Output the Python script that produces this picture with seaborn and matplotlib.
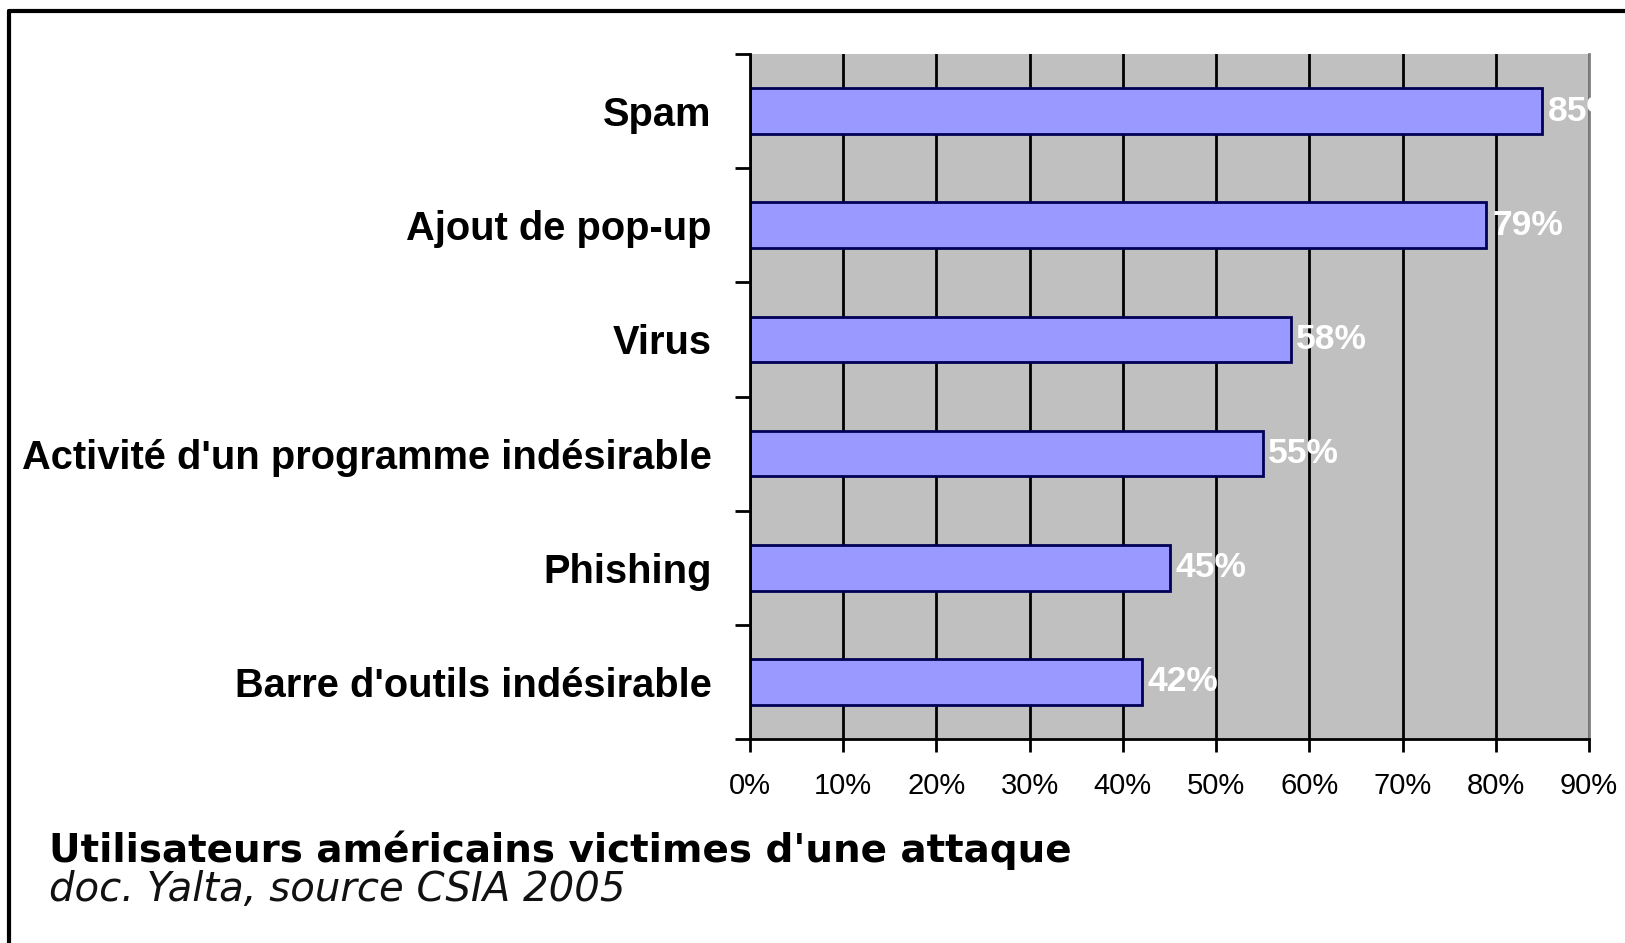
import matplotlib
matplotlib.use("Agg")
import matplotlib.pyplot as plt
import seaborn as sns
import pandas as pd
from matplotlib.lines import Line2D
from matplotlib.ticker import FixedLocator

categories = ["Spam", "Ajout de pop-up", "Virus",
              "Activité d'un programme indésirable", "Phishing",
              "Barre d'outils indésirable"]
values = [85, 79, 58, 55, 45, 42]
xtick_values = [0, 10, 20, 30, 40, 50, 60, 70, 80, 90]
xtick_labels = [f"{v}%" for v in xtick_values]
title = "Utilisateurs américains victimes d'une attaque"
subtitle = "doc. Yalta, source CSIA 2005"

sns.set_theme(style="white")
plt.rcParams['font.family'] = ['Liberation Sans', 'DejaVu Sans']

df = pd.DataFrame({"cat": categories, "val": values})

fig = plt.figure(figsize=(16.25, 9.43), dpi=100)
fig.patch.set_facecolor("white")
ax = fig.add_axes([750 / 1625, 1 - 739 / 943, 839 / 1625, 685 / 943])
ax.set_facecolor("#C0C0C0")

sns.barplot(data=df, x="val", y="cat", orient="h", ax=ax, color="#9999FF",
            saturation=1, width=0.4, edgecolor="#000055", linewidth=2)

ax.set_xlim(0, 90)
ax.set_ylim(len(categories) - 0.5, -0.5)
ax.set_xlabel("")
ax.set_ylabel("")

ax.set_xticks(xtick_values)
ax.set_xticklabels(xtick_labels, fontsize=21, color="black")
ax.xaxis.grid(True, color="black", linewidth=2)
ax.set_axisbelow(True)

ax.tick_params(axis="x", which="major", direction="out", length=9, width=2,
               color="black", pad=15, bottom=True)
ax.set_yticks(range(len(categories)))
ax.set_yticklabels(categories, fontsize=28.7, fontweight="bold", color="black")
ax.tick_params(axis="y", which="major", length=0, pad=27.5)
ax.yaxis.set_minor_locator(FixedLocator([i - 0.5 for i in range(len(categories) + 1)]))
ax.tick_params(axis="y", which="minor", direction="out", length=11, width=2,
               color="black", left=True)

for s in ["left", "bottom"]:
    ax.spines[s].set_color("black")
    ax.spines[s].set_linewidth(2)
ax.spines["top"].set_visible(False)
ax.spines["right"].set_color("#808080")
ax.spines["right"].set_linewidth(2)

for c in ax.containers:
    ax.bar_label(c, labels=[f"{v}%" for v in values], padding=4,
                 color="white", fontweight="bold", fontsize=25.5)

fig.text(49 / 1625, 1 - 850 / 943, title, fontsize=28, fontweight="bold",
         family="DejaVu Sans", va="center", ha="left", color="black")
fig.text(49 / 1625, 1 - 890 / 943, subtitle, fontsize=29, style="italic",
         family="DejaVu Sans", va="center", ha="left", color="#111111")

# frame border (left and top)
fig.add_artist(Line2D([8.5 / 1625, 8.5 / 1625], [0, 1 - 11 / 943],
                      transform=fig.transFigure, color="black", linewidth=3))
fig.add_artist(Line2D([8.5 / 1625, 1], [1 - 11 / 943, 1 - 11 / 943],
                      transform=fig.transFigure, color="black", linewidth=3))

fig.savefig("out.png", dpi=100)
